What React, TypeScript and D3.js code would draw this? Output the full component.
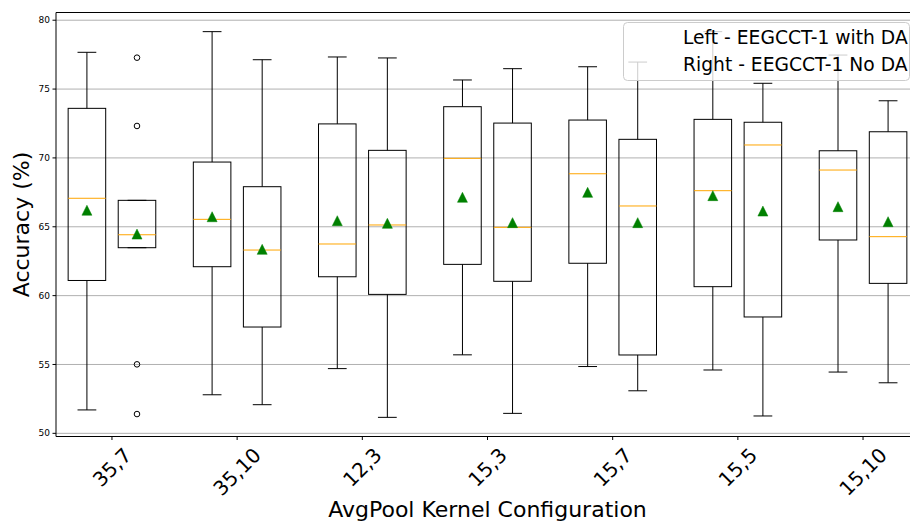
import React, { useRef, useEffect } from "react";
import * as d3 from "d3";

// kernel configurations on the x axis
const categories = ["35,7", "35,10", "12,3", "15,3", "15,7", "15,5", "15,10"];

// left boxes - EEGCCT-1 with DA
const withLow = [51.7, 52.8, 54.7, 55.7, 54.85, 54.6, 54.45];
const withQ1 = [61.1, 62.1, 61.37, 62.27, 62.35, 60.65, 64.04];
const withMedian = [67.07, 65.54, 63.75, 69.97, 68.85, 67.62, 69.12];
const withQ3 = [73.6, 69.7, 72.47, 73.72, 72.75, 72.8, 70.52];
const withHigh = [77.67, 79.17, 77.33, 75.66, 76.62, 79.17, 77.47];
const withMean = [66.2, 65.73, 65.44, 67.14, 67.5, 67.26, 66.46];

// right boxes - EEGCCT-1 No DA
const noLow = [63.48, 52.08, 51.16, 51.45, 53.09, 51.26, 53.67];
const noQ1 = [63.48, 57.72, 60.09, 61.04, 55.69, 58.45, 60.89];
const noMedian = [64.42, 63.31, 65.13, 64.96, 66.51, 70.94, 64.28];
const noQ3 = [66.92, 67.91, 70.55, 72.53, 71.35, 72.59, 71.9];
const noHigh = [66.92, 77.13, 77.26, 76.48, 76.96, 75.42, 74.15];
const noMean = [64.47, 63.36, 65.25, 65.3, 65.3, 66.14, 65.37];
const noOutliers = [[77.28, 72.32, 55.01, 51.4], [], [], [], [], [], []];

const yTicks = [50, 55, 60, 65, 70, 75, 80];
const legendLabels = ["Left - EEGCCT-1 with DA", "Right - EEGCCT-1 No DA"];

const FONT = "DejaVu Sans, sans-serif";

const App = () => {
  const svgRef = useRef<SVGSVGElement>(null);

  useEffect(() => {
    const width = 910;
    const height = 521;
    const margin = { top: 12.5, right: -9, bottom: 84.5, left: 56 };
    const svg = d3.select(svgRef.current).attr("width", width).attr("height", height);
    svg.selectAll("*").remove();

    const x = d3
      .scaleLinear()
      .domain([1 - 0.447, categories.length + 0.447])
      .range([margin.left, width - margin.right]);
    const y = d3
      .scaleLinear()
      .domain([49.77, 80.56])
      .range([height - margin.bottom, margin.top]);

    const offset = 0.2;
    const boxW = x(1.3) - x(1);

    // grid
    svg
      .append("g")
      .selectAll("line")
      .data(yTicks)
      .join("line")
      .attr("x1", margin.left)
      .attr("x2", width - margin.right)
      .attr("y1", (d) => y(d))
      .attr("y2", (d) => y(d))
      .attr("stroke", "#b0b0b0")
      .attr("stroke-width", 1);

    const boxes = [
      ...categories.map((c, i) => ({
        pos: i + 1 - offset,
        low: withLow[i],
        q1: withQ1[i],
        med: withMedian[i],
        q3: withQ3[i],
        high: withHigh[i],
        mean: withMean[i],
        out: [] as number[],
      })),
      ...categories.map((c, i) => ({
        pos: i + 1 + offset,
        low: noLow[i],
        q1: noQ1[i],
        med: noMedian[i],
        q3: noQ3[i],
        high: noHigh[i],
        mean: noMean[i],
        out: noOutliers[i],
      })),
    ];

    const g = svg.append("g");
    boxes.forEach((b) => {
      const cx = x(b.pos);
      const bg = g.append("g").attr("stroke", "#000").attr("stroke-width", 1).attr("fill", "none");
      // whiskers
      bg.append("line").attr("x1", cx).attr("x2", cx).attr("y1", y(b.q3)).attr("y2", y(b.high));
      bg.append("line").attr("x1", cx).attr("x2", cx).attr("y1", y(b.q1)).attr("y2", y(b.low));
      // caps
      [b.low, b.high].forEach((v) => {
        bg.append("line")
          .attr("x1", cx - boxW / 4)
          .attr("x2", cx + boxW / 4)
          .attr("y1", y(v))
          .attr("y2", y(v));
      });
      // box
      bg.append("rect")
        .attr("x", cx - boxW / 2)
        .attr("y", y(b.q3))
        .attr("width", boxW)
        .attr("height", y(b.q1) - y(b.q3));
      // median
      g.append("line")
        .attr("x1", cx - boxW / 2)
        .attr("x2", cx + boxW / 2)
        .attr("y1", y(b.med))
        .attr("y2", y(b.med))
        .attr("stroke", "#ffa500")
        .attr("stroke-width", 1);
      // mean
      const my = y(b.mean);
      g.append("path")
        .attr("d", `M${cx},${my - 5}L${cx + 5},${my + 5}L${cx - 5},${my + 5}Z`)
        .attr("fill", "#008000")
        .attr("stroke", "#008000")
        .attr("stroke-width", 0.5);
      // fliers
      b.out.forEach((v) => {
        g.append("circle")
          .attr("cx", cx)
          .attr("cy", y(v))
          .attr("r", 2.8)
          .attr("fill", "none")
          .attr("stroke", "#000")
          .attr("stroke-width", 1);
      });
    });

    // frame
    const frame = svg.append("g").attr("stroke", "#000").attr("stroke-width", 1);
    frame.append("line").attr("x1", margin.left).attr("x2", width).attr("y1", y.range()[1]).attr("y2", y.range()[1]);
    frame.append("line").attr("x1", margin.left).attr("x2", width).attr("y1", y.range()[0]).attr("y2", y.range()[0]);
    frame.append("line").attr("x1", margin.left).attr("x2", margin.left).attr("y1", y.range()[1]).attr("y2", y.range()[0]);

    // y axis ticks
    const yAxis = svg.append("g").attr("font-family", FONT).attr("font-size", 9);
    yTicks.forEach((t) => {
      yAxis.append("line")
        .attr("x1", margin.left - 3.5)
        .attr("x2", margin.left)
        .attr("y1", y(t))
        .attr("y2", y(t))
        .attr("stroke", "#000");
      yAxis.append("text")
        .attr("x", margin.left - 6)
        .attr("y", y(t))
        .attr("dy", "0.35em")
        .attr("text-anchor", "end")
        .attr("fill", "#000")
        .text(t);
    });

    // x axis ticks
    const xAxis = svg.append("g").attr("font-family", FONT).attr("font-size", 20);
    const bottom = y.range()[0];
    categories.forEach((c, i) => {
      const tx = x(i + 1);
      xAxis.append("line")
        .attr("x1", tx)
        .attr("x2", tx)
        .attr("y1", bottom)
        .attr("y2", bottom + 3.5)
        .attr("stroke", "#000");
      const label = xAxis.append("text").attr("text-anchor", "middle").attr("fill", "#000").text(c);
      const len = (label.node() as SVGTextElement).getComputedTextLength();
      const cy = bottom + 7 + (len + 23) * 0.3536;
      label
        .attr("x", tx)
        .attr("y", cy)
        .attr("dy", "0.35em")
        .attr("transform", `rotate(-45,${tx},${cy})`);
    });

    // axis titles
    svg.append("text")
      .attr("x", (margin.left + width - margin.right) / 2)
      .attr("y", 517)
      .attr("text-anchor", "middle")
      .attr("font-family", FONT)
      .attr("font-size", 22)
      .text("AvgPool Kernel Configuration");
    svg.append("text")
      .attr("transform", `translate(29,${(y.range()[0] + y.range()[1]) / 2}) rotate(-90)`)
      .attr("text-anchor", "middle")
      .attr("font-family", FONT)
      .attr("font-size", 22)
      .text("Accuracy (%)");

    // legend
    const legend = svg.append("g");
    legend.append("rect")
      .attr("x", 623.5)
      .attr("y", 22.5)
      .attr("width", 286)
      .attr("height", 58)
      .attr("rx", 4)
      .attr("fill", "#fff")
      .attr("fill-opacity", 0.8)
      .attr("stroke", "#cccccc")
      .attr("stroke-width", 1);
    legend.selectAll("text")
      .data(legendLabels)
      .join("text")
      .attr("x", 683)
      .attr("y", (d, i) => 44 + i * 26.7)
      .attr("font-family", FONT)
      .attr("font-size", 18.7)
      .attr("fill", "#000")
      .text((d) => d);
  }, []);

  return (
    <div style={{ position: "absolute", left: 0, top: 0 }}>
      <svg ref={svgRef}></svg>
    </div>
  );
};

export default App;
